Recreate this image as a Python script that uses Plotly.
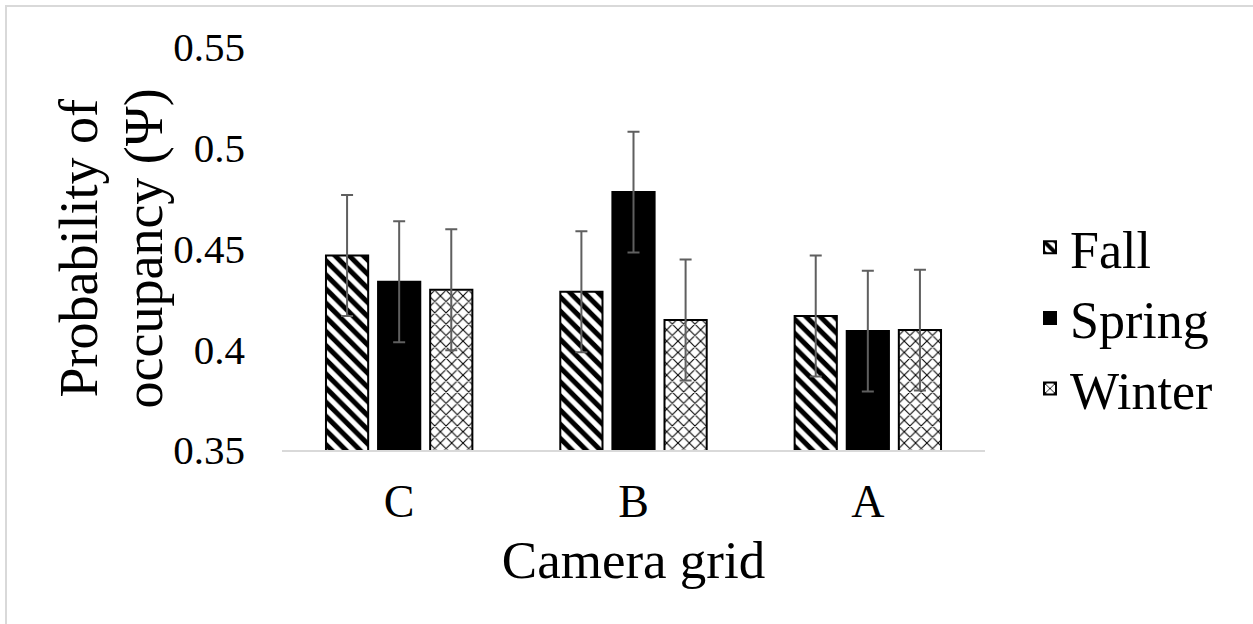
import plotly.graph_objects as go

categories = ["C", "B", "A"]
fall = [0.4465, 0.4285, 0.4165]
spring = [0.4335, 0.478, 0.409]
winter = [0.4295, 0.4145, 0.4095]
fall_err = [0.030, 0.030, 0.030]
spring_err = [0.030, 0.030, 0.030]
winter_err = [0.030, 0.030, 0.030]
series_names = ["Fall", "Spring", "Winter"]
y_title_lines = ["Probability of", "occupancy (Ψ)"]

FONT = "Liberation Serif, Times New Roman, serif"
err_style = dict(type="data", color="#5f5f5f", thickness=2, width=6)

fig = go.Figure()
fig.add_trace(go.Bar(
    name=series_names[0], x=categories, y=fall,
    error_y=dict(array=fall_err, **err_style),
    marker=dict(color="white", line=dict(color="black", width=2),
                pattern=dict(shape="\\", fgcolor="black", bgcolor="white", fgopacity=1,
                             size=10, solidity=0.5)),
))
fig.add_trace(go.Bar(
    name=series_names[1], x=categories, y=spring,
    error_y=dict(array=spring_err, **err_style),
    marker=dict(color="black", line=dict(color="black", width=2)),
))
fig.add_trace(go.Bar(
    name=series_names[2], x=categories, y=winter,
    error_y=dict(array=winter_err, **err_style),
    marker=dict(color="white", line=dict(color="black", width=2),
                pattern=dict(shape="x", fgcolor="black", bgcolor="white", fgopacity=1,
                             size=8, solidity=0.25)),
))

PL, PR, PT, PB = 282, 985, 47, 450
PW, PH = PR - PL, PB - PT

fig.update_layout(
    width=1253, height=624,
    margin=dict(l=PL, r=1253 - PR, t=PT, b=624 - PB),
    paper_bgcolor="white", plot_bgcolor="white",
    barmode="group", bargap=0.333, bargroupgap=0.19,
    font=dict(family=FONT, color="black", size=41),
    showlegend=True,
    legend=dict(x=(1030 - PL) / PW, y=(PB - 318) / PH, xanchor="left", yanchor="middle",
                font=dict(family=FONT, size=52), tracegroupgap=0),
    xaxis=dict(
        showline=True, linecolor="#d9d9d9", linewidth=1.5, ticks="",
        tickfont=dict(family=FONT, size=46), ticklabelstandoff=10,
        title=dict(text="Camera grid", font=dict(family=FONT, size=53), standoff=15),
    ),
    yaxis=dict(
        range=[0.35, 0.55], tickvals=[0.35, 0.4, 0.45, 0.5, 0.55],
        ticktext=["0.35", "0.4", "0.45", "0.5", "0.55"],
        showgrid=False, zeroline=False, showline=False, ticks="",
        tickfont=dict(family=FONT, size=41), ticklabelstandoff=36,
    ),
)

for line_text, px in zip(y_title_lines, [78, 143]):
    fig.add_annotation(text=line_text, xref="paper", yref="paper",
                       x=(px - PL) / PW, y=0.5, xanchor="center", yanchor="middle",
                       textangle=-90, showarrow=False,
                       font=dict(family=FONT, size=54, color="black"))

fig.add_shape(type="rect", xref="paper", yref="paper",
              x0=(6 - PL) / PW, x1=(1300 - PL) / PW,
              y0=(PB - 700) / PH, y1=(PB - 6) / PH,
              line=dict(color="#d9d9d9", width=2), fillcolor="rgba(0,0,0,0)", layer="below")

fig.write_html("out.html")
